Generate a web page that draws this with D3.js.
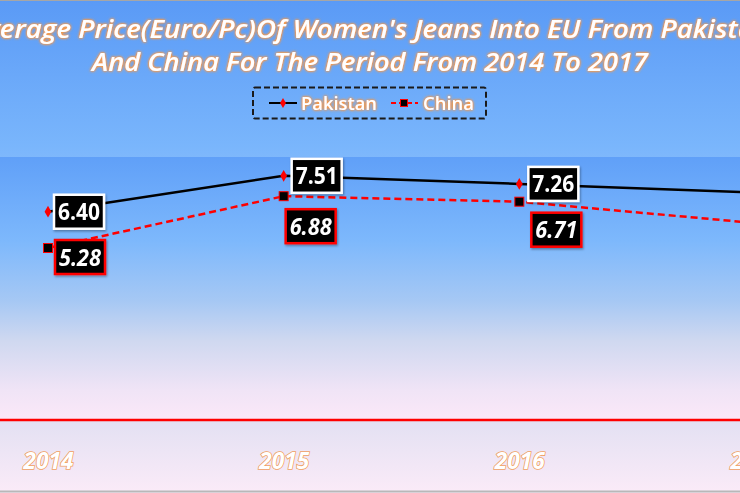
<!DOCTYPE html>
<html><head><meta charset="utf-8">
<script src="https://cdn.jsdelivr.net/npm/d3@7"></script>
<style>html,body{margin:0;padding:0;overflow:hidden;background:#fff}</style>
</head><body>
<svg id="c" width="740" height="493"></svg>
<script>
const years = ["2014","2015","2016","2017"];
const pakistan = [6.40, 7.51, 7.26, 6.99];
const china = [5.28, 6.88, 6.71, 6.05];
const titleLines = ["Average Price(Euro/Pc)Of Women's Jeans Into EU From Pakistan", "And China For The Period From 2014 To 2017"];
const seriesNames = ["Pakistan", "China"];

const svg = d3.select("#c");
const defs = svg.append("defs");
function grad(id, stops){
  const g = defs.append("linearGradient").attr("id", id).attr("x1",0).attr("y1",0).attr("x2",0).attr("y2",1);
  stops.forEach(s => g.append("stop").attr("offset", s[0]).attr("stop-color", s[1]));
}
grad("outerG", [[0,"#5a9af6"],[0.30,"#7ab6fc"],[0.55,"#b4cdf4"],[0.86,"#e4e1f3"],[1,"#fbebf8"]]);
grad("plotG", [[0,"#60a0f8"],[0.32,"#7db8fc"],[0.55,"#a6c8f4"],[0.70,"#cfd8f0"],[0.89,"#f0e4f6"],[1,"#fbe8f8"]]);
const glow = defs.append("filter").attr("id","glow").attr("x","-10%").attr("y","-30%").attr("width","120%").attr("height","160%");
glow.append("feGaussianBlur").attr("in","SourceAlpha").attr("stdDeviation",1.6).attr("result","b");
glow.append("feFlood").attr("flood-color","#f09a50");
glow.append("feComposite").attr("in2","b").attr("operator","in").attr("result","g");
const fm = glow.append("feComponentTransfer").attr("in","g").attr("result","g2");
fm.append("feFuncA").attr("type","linear").attr("slope",2.2);
const mg = glow.append("feMerge");
mg.append("feMergeNode").attr("in","g2");
mg.append("feMergeNode").attr("in","SourceGraphic");
const sh = defs.append("filter").attr("id","shadow").attr("x","-20%").attr("y","-20%").attr("width","150%").attr("height","150%");
sh.append("feDropShadow").attr("dx",1).attr("dy",1.5).attr("stdDeviation",1.2).attr("flood-color","#000").attr("flood-opacity",0.35);

const W = 740, H = 493;
const plotTop = 157, plotBottom = 419;

// backgrounds
svg.append("rect").attr("x",0).attr("y",0).attr("width",W).attr("height",H).attr("fill","url(#outerG)");
svg.append("line").attr("x1",0).attr("x2",W).attr("y1",0.5).attr("y2",0.5).attr("stroke","#a6a6a6");
svg.append("line").attr("x1",0).attr("x2",W).attr("y1",491.5).attr("y2",491.5).attr("stroke","#b8b8b8").attr("stroke-width",2);
svg.append("rect").attr("x",0).attr("y",plotTop).attr("width",W).attr("height",plotBottom-plotTop).attr("fill","url(#plotG)");

const x = d3.scalePoint().domain(years).range([48, 755]);
const y = d3.scaleLinear().domain([0, 8.09]).range([plotBottom, plotTop]);

// x axis
const xAxis = svg.append("g").attr("transform",`translate(0,${plotBottom})`)
  .call(d3.axisBottom(x).tickSize(0).tickPadding(48));
xAxis.select(".domain").remove();
svg.append("line").attr("x1",0).attr("x2",W).attr("y1",plotBottom+1).attr("y2",plotBottom+1)
  .attr("stroke","#ff0000").attr("stroke-width",2.5);
xAxis.selectAll("text")
  .attr("dy", "0.1em")
  .attr("font-family","'Open Sans', 'Noto Sans', sans-serif")
  .attr("font-style","italic").attr("font-weight",700).attr("font-size",23)
  .attr("textLength",50).attr("lengthAdjust","spacingAndGlyphs")
  .attr("fill","#ffffff").attr("stroke","#f0a062").attr("stroke-width",1.6)
  .style("paint-order","stroke");

// title
svg.selectAll("text.title").data(titleLines).join("text").attr("class","title")
  .attr("x", 370).attr("y", (d,i) => 38 + i*33)
  .attr("text-anchor","middle")
  .attr("font-family","'Open Sans', 'Noto Sans', sans-serif")
  .attr("font-style","italic").attr("font-weight",600).attr("font-size",26)
  .attr("textLength",(d,i) => i===0 ? 800 : 556).attr("lengthAdjust","spacingAndGlyphs")
  .attr("fill","#ffffff").attr("filter","url(#glow)")
  .text(d => d);

// legend
const lg = svg.append("g");
lg.append("rect").attr("x",253).attr("y",87.5).attr("width",233).attr("height",31).attr("rx",2)
  .attr("fill","none").attr("stroke","#1a1a1a").attr("stroke-width",2).attr("stroke-dasharray","6,3");
lg.append("line").attr("x1",269).attr("x2",297).attr("y1",103).attr("y2",103).attr("stroke","#000").attr("stroke-width",2);
lg.append("path").attr("d", d3.symbol(d3.symbolDiamond, 30)()).attr("transform","translate(283,103)").attr("fill","#ff0000");
lg.append("line").attr("x1",391).attr("x2",418).attr("y1",103).attr("y2",103).attr("stroke","#ff0000").attr("stroke-width",2).attr("stroke-dasharray","5,3");
lg.append("rect").attr("x",400.5).attr("y",99.5).attr("width",7).attr("height",7).attr("fill","#000").attr("stroke","#ff0000").attr("stroke-width",1);
lg.selectAll("text").data(seriesNames).join("text")
  .attr("x",(d,i)=> i===0 ? 301 : 423).attr("y",110)
  .attr("font-family","'Open Sans', 'Noto Sans', sans-serif").attr("font-weight",600).attr("font-size",18)
  .attr("textLength",(d,i)=> i===0 ? 76 : 51).attr("lengthAdjust","spacingAndGlyphs")
  .attr("fill","#ffffff").attr("filter","url(#glow)")
  .text(d=>d);

// lines
const line = d3.line().x((d,i)=>x(years[i])).y(d=>y(d));
svg.append("path").datum(china).attr("d",line).attr("fill","none").attr("stroke","#ff0000")
  .attr("stroke-width",2.5).attr("stroke-dasharray","7,4");
svg.append("path").datum(pakistan).attr("d",line).attr("fill","none").attr("stroke","#000")
  .attr("stroke-width",2.5);

// markers
svg.selectAll("path.pm").data(pakistan).join("path").attr("class","pm")
  .attr("d", d3.symbol(d3.symbolDiamond, 40)())
  .attr("transform",(d,i)=>`translate(${x(years[i])},${y(d)})`).attr("fill","#ff0000");
svg.selectAll("rect.cm").data(china).join("rect").attr("class","cm")
  .attr("x",(d,i)=>x(years[i])-4.5).attr("y",d=>y(d)-4.5).attr("width",9).attr("height",9)
  .attr("fill","#000").attr("stroke","#ff0000").attr("stroke-width",1);

// data labels
const pakOff = [[31,0],[33,0],[34,0],[34,0]];
const chiOff = [[32,9],[27,30],[37,28],[37,28]];
function labels(data, offs, cls, border, italic){
  const g = svg.selectAll("g."+cls).data(data).join("g").attr("class",cls)
    .attr("transform",(d,i)=>`translate(${x(years[i])+offs[i][0]},${y(d)+offs[i][1]})`)
    .attr("filter","url(#shadow)");
  g.append("rect").attr("x",-25).attr("y",-17).attr("width",50).attr("height",34)
    .attr("fill","#000").attr("stroke",border).attr("stroke-width",2.5);
  g.append("text").attr("x",0).attr("y",8.5).attr("text-anchor","middle")
    .attr("font-family","'Open Sans', 'Noto Sans', sans-serif").attr("font-weight",700)
    .attr("font-style", italic ? "italic" : "normal").attr("font-size",23)
    .attr("textLength",42).attr("lengthAdjust","spacingAndGlyphs")
    .attr("fill","#fff").text(d=>d.toFixed(2));
}
labels(pakistan, pakOff, "pl", "#ffffff", false);
labels(china, chiOff, "cl", "#ff0000", true);
</script>
</body></html>
